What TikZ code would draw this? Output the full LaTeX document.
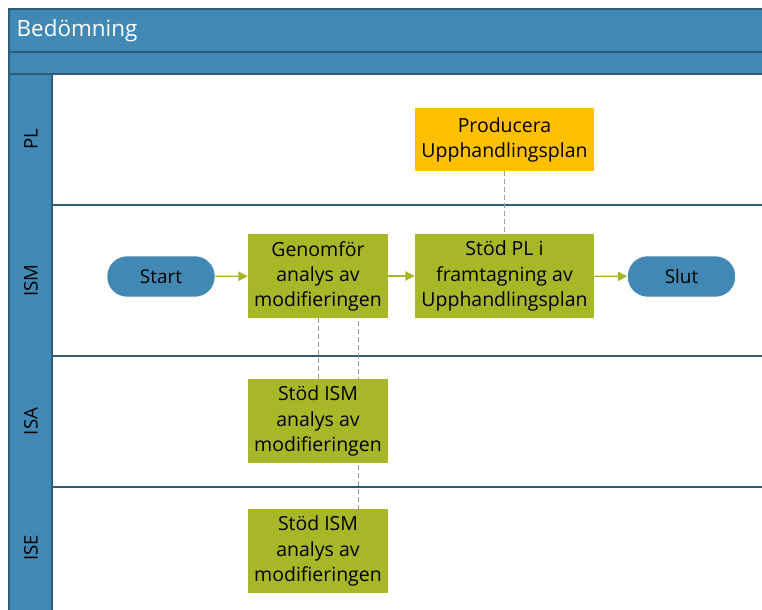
\documentclass[tikz,border=0pt]{standalone}
\usepackage{fontspec}
\setmainfont{Open Sans}
\usetikzlibrary{arrows.meta,calc,backgrounds}
\definecolor{laneblue}{HTML}{4189B4}
\definecolor{laneline}{HTML}{2F5D78}
\definecolor{taskgreen}{HTML}{A7B727}
\definecolor{taskyellow}{HTML}{FFC000}
\definecolor{dashgray}{HTML}{9A9A9A}
\tikzset{
  task/.style={fill=taskgreen, draw=none, align=center, font=\fontsize{14.6}{18.8}\selectfont,
    minimum width=105pt, minimum height=63pt, inner sep=0pt},
  widetask/.style={task, minimum width=134.25pt},
  pill/.style={fill=laneblue, draw=white, line width=0.4pt, rounded corners=15pt,
    minimum width=81pt, minimum height=30.75pt, font=\fontsize{14.2}{16}\selectfont, inner sep=0pt},
  flow/.style={draw=taskgreen, line width=0.9pt, -{Triangle[length=7pt,width=7pt]}},
  assoc/.style={draw=dashgray, line width=0.7pt, dash pattern=on 3.5pt off 2.5pt},
  lanelabel/.style={rotate=90, font=\fontsize{14}{16}\selectfont},
  sep/.style={draw=laneline, line width=1pt}
}
\begin{document}
\begin{tikzpicture}[x=0.75pt,y=-0.75pt]
\useasboundingbox (0,0) rectangle (762,609);
% pool frame: title bar, sub bar, lane label column
\fill[white] (9,9) rectangle (770,620);
\fill[laneblue] (9,9) rectangle (770,74);
\fill[laneblue] (9,74) rectangle (52,620);
\draw[sep] (9,620) -- (9,9) -- (770,9);
\draw[sep] (9,52) -- (770,52);
\draw[sep] (9,74) -- (770,74);
\draw[sep] (52,74) -- (52,620);
\node[anchor=west, text=white, font=\fontsize{16.8}{19}\selectfont] (title) at (12,31) {Bedömning};
% lane separators
\draw[sep] (52,205) -- (770,205);
\draw[sep] (52,356) -- (770,356);
\draw[sep] (52,487) -- (770,487);
% lane labels
\node[lanelabel] (lpl) at (31,139.5) {PL};
\node[lanelabel] (lism) at (31,280.5) {ISM};
\node[lanelabel] (lisa) at (31,421.5) {ISA};
\node[lanelabel] (lise) at (31,548) {ISE};
% activities
\node[widetask, fill=taskyellow, minimum height=47.25pt] (prod) at (504.5,139.5) {Producera\\Upphandlingsplan};
\node[pill] (start) at (161,276.5) {Start};
\node[task] (gen) at (318,276) {Genomför\\analys av\\modifieringen};
\node[widetask] (stod) at (504.5,276) {Stöd PL i\\framtagning av\\Upphandlingsplan};
\node[pill] (slut) at (681.5,276.5) {Slut};
\node[task] (ise) at (318,551) {Stöd ISM\\analys av\\modifieringen};
% association running behind the ISA activity
\draw[assoc, shorten <=-13*0.75pt, shorten >=-6*0.75pt] ($(gen.south)+(40,0)$) -- ($(ise.north)+(40,0)$);
\node[task] (isa) at (318,421) {Stöd ISM\\analys av\\modifieringen};
\draw[assoc] (gen.south) -- (isa.north);
\draw[assoc] (prod.south) -- (stod.north);
% sequence flows
\draw[flow] (start) -- (gen);
\draw[flow] (gen) -- (stod);
\draw[flow] (stod) -- (slut);
\end{tikzpicture}
\end{document}
